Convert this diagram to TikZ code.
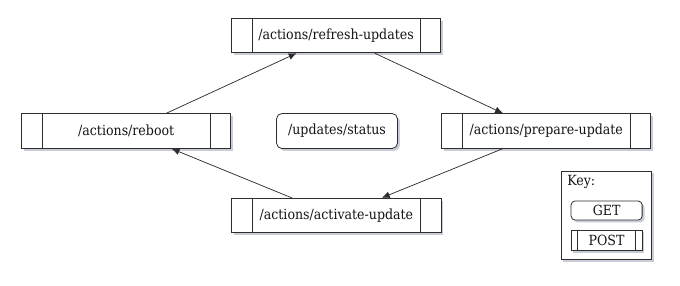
\documentclass[tikz,border=0pt]{standalone}
\usepackage{fontspec}
\setmainfont{DejaVu Serif Condensed}
\usetikzlibrary{arrows.meta, positioning, shadows}
\definecolor{linegray}{RGB}{45, 45, 45}
\definecolor{textgray}{RGB}{20, 20, 20}
\definecolor{shadowblue}{RGB}{120, 130, 160}

\tikzset{
  softshadow/.style={drop shadow={shadow xshift=1.8pt, shadow yshift=-1.8pt, fill=shadowblue, opacity=0.4}},
  postbox/.style={draw=linegray, line width=0.6pt, fill=white, text=textgray, font=\fontsize{10.5}{12}\selectfont,
    minimum width=156.8pt, minimum height=25.9pt, inner sep=0pt, softshadow,
    path picture={
      \draw[linegray, line width=0.6pt] ([xshift=#1]path picture bounding box.north west) -- ([xshift=#1]path picture bounding box.south west);
      \draw[linegray, line width=0.6pt] ([xshift=-#1]path picture bounding box.north east) -- ([xshift=-#1]path picture bounding box.south east);
    }},
  postbox/.default=15.4pt,
  getbox/.style={draw=linegray, line width=0.6pt, fill=white, text=textgray, font=\fontsize{10.5}{12}\selectfont,
    rounded corners=4pt, inner sep=0pt, softshadow},
  flow/.style={-{Latex[length=6pt, width=5pt]}, linegray, line width=0.55pt},
}

\begin{document}
\begin{tikzpicture}[x=0.75pt, y=-0.75pt]
\useasboundingbox (0,0) rectangle (680,285);

% endpoints
\node[postbox] (refresh) at (336,35.5) {/actions/refresh-updates};
\node[postbox] (reboot) at (126.2,131) {/actions/reboot};
\node[postbox] (prepare) at (546.2,131) {/actions/prepare-update};
\node[postbox] (activate) at (336.4,215.5) {/actions/activate-update};
\node[getbox, minimum width=90.7pt, minimum height=26.2pt] (status) at (337,131) {/updates/status};

% cycle
\draw[flow] ([xshift=30pt]reboot.north) -- ([xshift=-29.5pt]refresh.south);
\draw[flow] ([xshift=29pt]refresh.south) -- ([xshift=-32.4pt]prepare.north);
\draw[flow] ([xshift=-32.6pt]prepare.south) -- ([xshift=34pt]activate.north);
\draw[flow] ([xshift=-33.5pt]activate.north) -- ([xshift=34pt]reboot.south);

% key
\node[draw=linegray, line width=0.6pt, fill=white, minimum width=68pt, minimum height=66.2pt, inner sep=0pt, softshadow] (key) at (606.3,215.2) {};
\node[anchor=base west, text=textgray, font=\fontsize{10.5}{12}\selectfont, inner sep=0pt] (keylabel) at (567,185.5) {Key:};
\node[getbox, minimum width=53.3pt, minimum height=14.3pt, rounded corners=3pt] (getkey) at (606.6,210.5) {GET};
\node[postbox=4.9pt, minimum width=53.3pt, minimum height=15.5pt] (postkey) at (606.5,240.3) {POST};

\end{tikzpicture}
\end{document}
